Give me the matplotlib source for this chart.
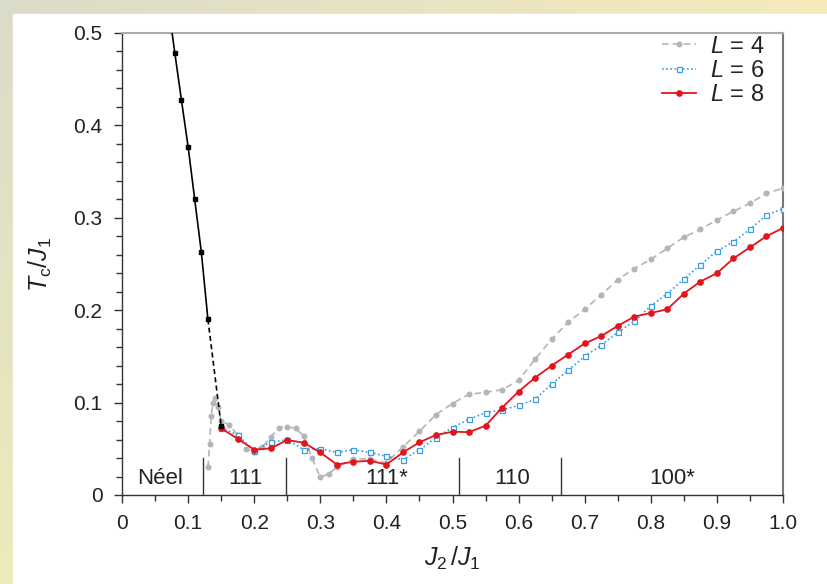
import numpy as np
import matplotlib
matplotlib.use("Agg")
import matplotlib.pyplot as plt
from matplotlib.ticker import MultipleLocator

plt.rcParams['font.family'] = ['Liberation Sans', 'DejaVu Sans']
plt.rcParams['mathtext.fontset'] = 'custom'
plt.rcParams['mathtext.rm'] = 'Liberation Sans'
plt.rcParams['mathtext.it'] = 'Liberation Sans:italic'

# ---- data ----
neel_x = [0.07, 0.08, 0.09, 0.10, 0.11, 0.12, 0.13]
neel_y = [0.53, 0.478, 0.427, 0.377, 0.320, 0.263, 0.190]
neel_dash_x = [0.13, 0.15]
neel_dash_y = [0.190, 0.075]

l4_x = [0.13, 0.1325, 0.135, 0.1375, 0.14, 0.145, 0.15, 0.1625, 0.175, 0.1875,
        0.2, 0.2125, 0.225, 0.2375, 0.25, 0.2625, 0.275, 0.2875, 0.3, 0.3125,
        0.325, 0.35, 0.375, 0.4, 0.425, 0.45, 0.475, 0.5, 0.525, 0.55, 0.575,
        0.6, 0.625, 0.65, 0.675, 0.7, 0.725, 0.75, 0.775, 0.8, 0.825, 0.85,
        0.875, 0.9, 0.925, 0.95, 0.975, 1.0]
l4_y = [0.030, 0.055, 0.085, 0.100, 0.105, 0.095, 0.080, 0.076, 0.065, 0.050,
        0.047, 0.052, 0.063, 0.073, 0.074, 0.072, 0.064, 0.040, 0.019, 0.023,
        0.030, 0.039, 0.039, 0.035, 0.052, 0.069, 0.087, 0.099, 0.109, 0.111, 0.114,
        0.124, 0.147, 0.1685, 0.187, 0.201, 0.2165, 0.233, 0.245, 0.255, 0.267, 0.279,
        0.2875, 0.2976, 0.307, 0.3157, 0.3265, 0.332]

l68_x = [0.15, 0.175, 0.2, 0.225, 0.25, 0.275, 0.3, 0.325, 0.35, 0.375, 0.4,
         0.425, 0.45, 0.475, 0.5, 0.525, 0.55, 0.575, 0.6, 0.625, 0.65, 0.675,
         0.7, 0.725, 0.75, 0.775, 0.8, 0.825, 0.85, 0.875, 0.9, 0.925, 0.95,
         0.975, 1.0]
l6_y = [0.073, 0.065, 0.048, 0.057, 0.060, 0.049, 0.050, 0.046, 0.049, 0.046, 0.042,
        0.038, 0.049, 0.062, 0.073, 0.082, 0.089, 0.092, 0.097, 0.1035, 0.120, 0.135,
        0.150, 0.162, 0.176, 0.188, 0.2045, 0.218, 0.2335, 0.249, 0.264, 0.274, 0.2875,
        0.303, 0.310]
l8_y = [0.072, 0.061, 0.049, 0.0505, 0.0595, 0.0566, 0.046, 0.033, 0.036, 0.037, 0.033,
        0.046, 0.057, 0.065, 0.0685, 0.068, 0.075, 0.0945, 0.112, 0.127, 0.140, 0.152,
        0.164, 0.172, 0.183, 0.193, 0.197, 0.201, 0.218, 0.231, 0.240, 0.256, 0.268,
        0.280, 0.289]

phase_bounds = [0.123, 0.248, 0.51, 0.664]
phase_bound_top = 0.040
phase_labels = ['Néel', '111', '111*', '110', '100*']
phase_label_x = [0.058, 0.187, 0.40, 0.59, 0.833]

xticks = [0, 0.1, 0.2, 0.3, 0.4, 0.5, 0.6, 0.7, 0.8, 0.9, 1.0]
xticklabels = ['0', '0.1', '0.2', '0.3', '0.4', '0.5', '0.6', '0.7', '0.8', '0.9', '1.0']
yticks = [0, 0.1, 0.2, 0.3, 0.4, 0.5]
yticklabels = ['0', '0.1', '0.2', '0.3', '0.4', '0.5']

# ---- figure ----
W, H = 827, 584
fig = plt.figure(figsize=(W / 100, H / 100), dpi=100)

# beige gradient frame
bg = fig.add_axes([0, 0, 1, 1], zorder=-10)
bg.set_axis_off()
gx = np.linspace(0, 1, 200)
c0 = np.array([0.86, 0.86, 0.79])
c1 = np.array([0.96, 0.92, 0.73])
grad = c0[None, :] * (1 - gx[:, None]) + c1[None, :] * gx[:, None]
img = np.tile(grad[None, :, :], (40, 1, 1))
bg.imshow(img, aspect='auto', extent=[0, 1, 0, 1])
gy = np.linspace(0, 1, 200)
cl_top = np.array([0.86, 0.86, 0.79])
cl_bot = np.array([0.93, 0.92, 0.73])
gradv = cl_top[None, :] * (1 - gy[:, None]) + cl_bot[None, :] * gy[:, None]
imgv = np.tile(gradv[:, None, :], (1, 10, 1))
bg.imshow(imgv, aspect='auto', extent=[0, 13 / W, 0, 1])
bg.add_patch(plt.Rectangle((13 / W, 0), 1, 1 - 14 / H, color='white', zorder=5))
bg.set_xlim(0, 1)
bg.set_ylim(0, 1)

ax = fig.add_axes([122 / W, 1 - 495 / H, (783 - 122) / W, (495 - 33) / H])
ax.set_facecolor('none')

ax.plot(neel_x, neel_y, color='black', lw=1.2, zorder=6)
ax.plot(neel_x[1:], neel_y[1:], 's', color='black', ms=3.3, zorder=6)
ax.plot(neel_dash_x, neel_dash_y, color='black', lw=1.2, ls=(0, (3, 2)), zorder=6)
ax.plot(neel_dash_x[-1:], neel_dash_y[-1:], 's', color='black', ms=3.5, zorder=7)

ax.plot(l4_x, l4_y, color='#b5b5b5', ls=(0, (4, 2.5)), lw=1.2, marker='o', ms=3.3,
        mfc='#b5b5b5', mec='#b5b5b5', label='$L$ = 4', zorder=3)
ax.plot(l68_x, l6_y, color='#3a9ee0', ls=(0, (1, 1.5)), lw=1.2, marker='s', ms=3.6,
        mfc='white', mec='#3a9ee0', mew=0.9, label='$L$ = 6', zorder=4)
ax.plot(l68_x, l8_y, color='#e3141d', ls='-', lw=1.3, marker='o', ms=3.8,
        mfc='#e3141d', mec='#e3141d', label='$L$ = 8', zorder=5)

for b in phase_bounds:
    ax.plot([b, b], [0, phase_bound_top], color='#333333', lw=1.0, zorder=2)
for lab, lx in zip(phase_labels, phase_label_x):
    ax.text(lx, 0.006, lab, ha='center', va='bottom', fontsize=16, color='#222222')

ax.set_xlim(0, 1.0)
ax.set_ylim(0, 0.5)
ax.set_xticks(xticks)
ax.set_xticklabels(xticklabels)
ax.set_yticks(yticks)
ax.set_yticklabels(yticklabels)
ax.xaxis.set_minor_locator(MultipleLocator(0.05))
ax.yaxis.set_minor_locator(MultipleLocator(0.02))
ax.tick_params(which='both', direction='out', colors='#333333', labelcolor='#222222',
               labelsize=15, top=False, right=False)
ax.tick_params(which='major', length=6, width=1.0, pad=8)
ax.tick_params(which='minor', length=4, width=1.0)

for s in ['left', 'bottom']:
    ax.spines[s].set_color('#333333')
    ax.spines[s].set_linewidth(1.0)
ax.spines['top'].set_color('#aaaaaa')
ax.spines['top'].set_linewidth(1.5)
ax.spines['right'].set_color('#777777')
ax.spines['right'].set_linewidth(1.5)

ax.set_xlabel(r'$J_2\,/J_1$', fontsize=18, color='#222222', labelpad=8)
ax.set_ylabel(r'$T_\mathrm{c}/J_1$', fontsize=18, color='#222222', labelpad=14)

leg = ax.legend(loc='upper right', bbox_to_anchor=(1.0, 1.035), frameon=False,
                fontsize=17, handlelength=1.4, handletextpad=0.6, labelspacing=0.1,
                borderaxespad=0.4)
for t in leg.get_texts():
    t.set_color('#222222')

fig.savefig('out.png', dpi=100)
